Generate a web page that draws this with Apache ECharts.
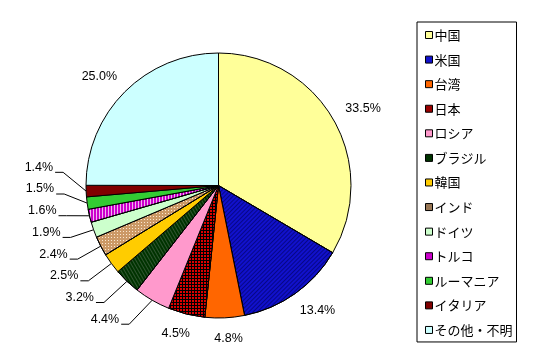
<!DOCTYPE html>
<html><head><meta charset="utf-8">
<script src="https://cdn.jsdelivr.net/npm/echarts@6/dist/echarts.min.js"></script>
<style>html,body{margin:0;padding:0;background:#fff}#c{width:537px;height:360px}</style>
</head><body><div id="c"></div>
<script>
const categories = ['中国','米国','台湾','日本','ロシア','ブラジル','韓国','インド','ドイツ','トルコ','ルーマニア','イタリア','その他・不明'];
const values = [33.5,13.4,4.8,4.5,4.4,3.2,2.5,2.4,1.9,1.6,1.5,1.4,25.0];
const colors = ['#FFFF99','#1111CC','#FF6600','#000000','#FF99CC','#003300','#FFCC00','#CC9966','#CCFFCC','#CC00CC','#33CC33','#800000','#CCFFFF'];
const legendColors = ['#FFFF99','#1111CC','#FF6600','#990000','#FF99CC','#003300','#FFCC00','#997755','#CCFFCC','#CC00CC','#33CC33','#800000','#CCFFFF'];
const decals = {
  '米国': {symbol:'rect', color:'rgba(0,0,90,0.6)', dashArrayX:[1,0], dashArrayY:[1,2], rotation:-Math.PI/4, symbolSize:1},
  '日本': {symbol:'rect', color:'#DD0000', dashArrayX:[2,1], dashArrayY:[2,1], symbolSize:1},
  'ブラジル': {symbol:'rect', color:'rgba(70,100,70,0.7)', dashArrayX:[1,0], dashArrayY:[1,2], rotation:Math.PI/3, symbolSize:1},
  'インド': {symbol:'rect', color:'rgba(255,240,220,0.9)', dashArrayX:[1,2], dashArrayY:[1,2], symbolSize:1},
  'トルコ': {symbol:'rect', color:'rgba(255,255,255,0.7)', dashArrayX:[1,2], dashArrayY:[1,0], symbolSize:1}
};
const smallList = ['ロシア','ブラジル','韓国','インド','ドイツ','トルコ','ルーマニア','イタリア'];

const data = categories.map((n,i)=>{
  const d = {name:n, value:values[i], itemStyle:{color:colors[i]}};
  if (decals[n]) d.itemStyle.decal = decals[n];
  if (smallList.includes(n)) {
    d.labelLine = {show:true, length:20, length2:8, lineStyle:{color:'#000', width:1}};
  } else {
    d.labelLine = {show:true, length:10, length2:2, lineStyle:{opacity:0}};
  }
  return d;
});

// label placement: stack the small left-hand labels, put big ones just outside the rim
const STACK_GAP = 21.7;
let stackBase = null;
function placeLabel(p) {
  const pts = p.labelLinePoints;
  if (!pts) return {};
  const name = categories[p.dataIndex];
  const e = pts[0], b = pts[1];
  const k = smallList.indexOf(name);
  if (k >= 0) {
    if (k === 0 || stackBase === null) stackBase = e[1] + 24;
    const ty = stackBase - k * STACK_GAP;
    const bx = e[0] - 23, ex = bx - 8;
    return {x: ex - 2, y: ty - 5, align:'right', verticalAlign:'middle',
            labelLinePoints:[[e[0],e[1]],[bx,ty],[ex,ty]]};
  }
  let dx = b[0]-e[0], dy = b[1]-e[1];
  const L = Math.hypot(dx,dy) || 1; dx /= L; dy /= L;
  const w = p.labelRect.width, h = 11, g = 15;
  const sx = Math.sign(dx)*Math.sqrt(Math.abs(dx)), sy = Math.sign(dy)*Math.sqrt(Math.abs(dy));
  return {x: e[0]+dx*g+sx*w/2, y: e[1]+dy*g+sy*h/2, align:'center', verticalAlign:'middle'};
}

const chart = echarts.init(document.getElementById('c'));
chart.setOption({
  animation:false,
  legend:{
    orient:'vertical', left:417, top:22,
    data:categories.map((n,i)=>({name:n, itemStyle:{color:legendColors[i], decal:'none'}})),
    itemWidth:7, itemHeight:7, itemGap:9.58,
    padding:[5.5,4,4.5,8],
    borderColor:'#000', borderWidth:1,
    icon:'rect',
    itemStyle:{borderColor:'#000', borderWidth:1},
    textStyle:{fontFamily:'"Noto Sans CJK JP", sans-serif', fontSize:13, color:'#000', lineHeight:15, padding:[0,0,0,-3]}
  },
  series:[{
    type:'pie',
    center:[218.5,185.5], radius:132.5,
    startAngle:90, clockwise:true,
    avoidLabelOverlap:false,
    itemStyle:{borderColor:'#000', borderWidth:1},
    label:{
      position:'outside',
      formatter:p=>p.value.toFixed(1)+'%',
      fontFamily:'"Liberation Sans", Arial, sans-serif', fontSize:12.5, color:'#000'
    },
    labelLayout: placeLabel,
    emphasis:{disabled:true},
    data:data
  }]
});
</script></body></html>
